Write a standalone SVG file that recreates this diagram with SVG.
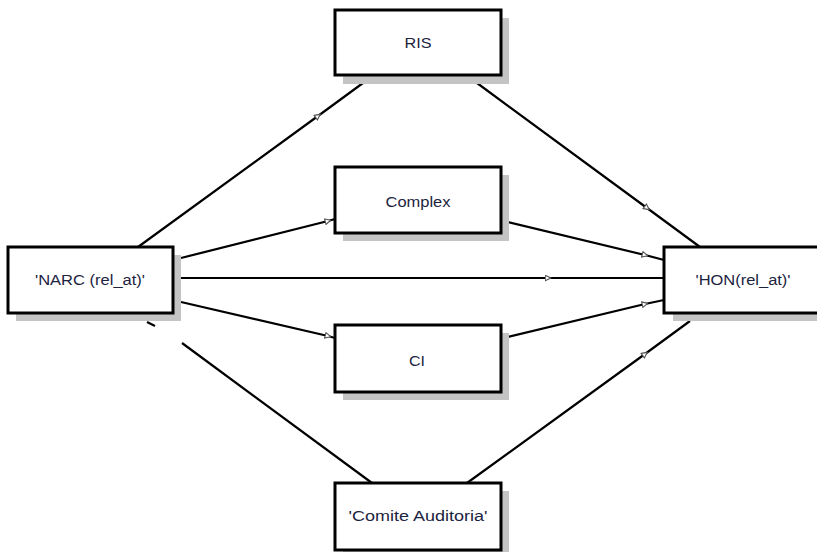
<svg xmlns="http://www.w3.org/2000/svg" width="817" height="552" viewBox="0 0 817 552">
<style>
.shadow{fill:#c4c4c4;stroke:none}
.box{fill:#ffffff;stroke:#000;stroke-width:3}
.lbl{font-family:"Liberation Sans",Arial,sans-serif;font-size:14px;fill:#1c2340;text-anchor:middle}
.con{fill:none;stroke:#000;stroke-width:2.2}
</style>
<defs>
<marker id="arr" viewBox="0 0 10 10" refX="5" refY="5" markerWidth="7" markerHeight="7" markerUnits="userSpaceOnUse" orient="auto">
<path d="M1,1 L9,5 L1,9 Z" fill="#ffffff" stroke="#555" stroke-width="1.6"/>
</marker>
</defs>
<rect width="817" height="552" fill="#ffffff"/>
<g id="connectors">
<path class="con" d="M138,247 L318,116 L363,83" marker-mid="url(#arr)"/>
<path class="con" d="M477,83 L647,208 L700,247" marker-mid="url(#arr)"/>
<path class="con" d="M181,258 L328,221 L335,219" marker-mid="url(#arr)"/>
<path class="con" d="M508,222 L645,255 L664,260" marker-mid="url(#arr)"/>
<path class="con" d="M181,278 L548,278 L664,278" marker-mid="url(#arr)"/>
<path class="con" d="M181,302 L328,336 L335,338" marker-mid="url(#arr)"/>
<path class="con" d="M508,337 L645,304 L664,300" marker-mid="url(#arr)"/>
<path class="con" d="M467,483 L645,354 L690,321" marker-mid="url(#arr)"/>
<path class="con" d="M372,483 L182,343"/>
<path class="con" d="M155,326 L147,322"/>
</g>
<g id="RIS">
<rect class="shadow" x="343" y="18" width="166" height="66"/>
<rect class="box" x="335" y="10" width="166" height="65"/>
<text class="lbl" x="418" y="48" textLength="27" lengthAdjust="spacingAndGlyphs">RIS</text>
</g>
<g id="Complex">
<rect class="shadow" x="343" y="175" width="166" height="66"/>
<rect class="box" x="335" y="167" width="166" height="66"/>
<text class="lbl" x="418" y="207" textLength="65" lengthAdjust="spacingAndGlyphs">Complex</text>
</g>
<g id="CI">
<rect class="shadow" x="343" y="333" width="166" height="67"/>
<rect class="box" x="335" y="325" width="166" height="67"/>
<text class="lbl" x="417" y="366" textLength="16" lengthAdjust="spacingAndGlyphs">CI</text>
</g>
<g id="NARC">
<rect class="shadow" x="16" y="255" width="165" height="66"/>
<rect class="box" x="8" y="247" width="165" height="66"/>
<text class="lbl" x="90" y="285" textLength="110" lengthAdjust="spacingAndGlyphs">'NARC (rel_at)'</text>
</g>
<g id="HON">
<rect class="shadow" x="673" y="255" width="160" height="66"/>
<rect class="box" x="664" y="247" width="160" height="66"/>
<text class="lbl" x="743" y="285" textLength="95" lengthAdjust="spacingAndGlyphs">'HON(rel_at)'</text>
</g>
<g id="ComiteAuditoria">
<rect class="shadow" x="343" y="491" width="166" height="67"/>
<rect class="box" x="335" y="483" width="166" height="67"/>
<text class="lbl" x="418" y="521" textLength="139" lengthAdjust="spacingAndGlyphs">'Comite Auditoria'</text>
</g>
</svg>
